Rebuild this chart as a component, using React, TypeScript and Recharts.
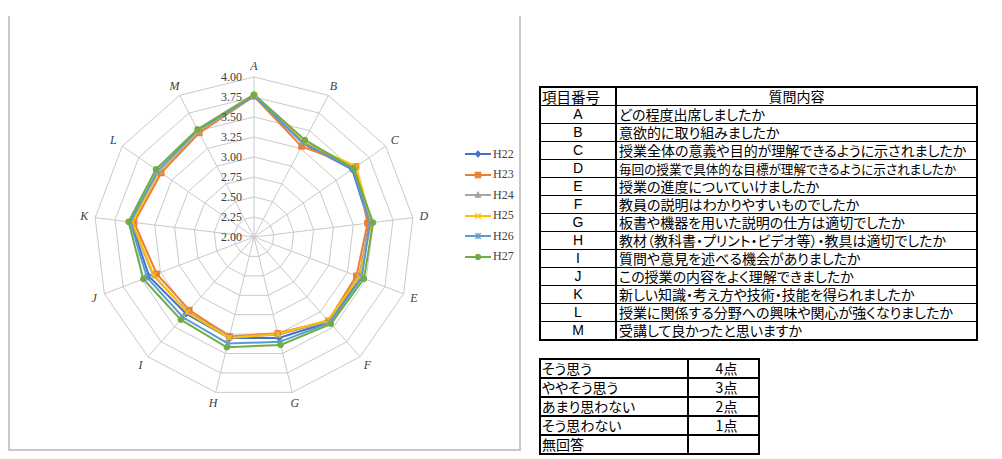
import React from 'react';
import { RadarChart, Radar, PolarGrid, PolarAngleAxis, PolarRadiusAxis, Legend } from 'recharts';

// evaluation items A..M (clockwise from top)
const categories = ['A', 'B', 'C', 'D', 'E', 'F', 'G', 'H', 'I', 'J', 'K', 'L', 'M'];

const h22 = [3.77, 3.32, 3.49, 3.45, 3.42, 3.42, 3.30, 3.30, 3.28, 3.40, 3.55, 3.45, 3.50];
const h23 = [3.76, 3.28, 3.55, 3.43, 3.37, 3.40, 3.24, 3.28, 3.22, 3.30, 3.51, 3.41, 3.47];
const h24 = [3.77, 3.33, 3.52, 3.46, 3.40, 3.41, 3.26, 3.29, 3.25, 3.35, 3.54, 3.44, 3.49];
const h25 = [3.77, 3.34, 3.55, 3.48, 3.41, 3.39, 3.25, 3.30, 3.26, 3.34, 3.53, 3.45, 3.50];
const h26 = [3.76, 3.33, 3.50, 3.46, 3.44, 3.43, 3.35, 3.37, 3.34, 3.43, 3.56, 3.46, 3.51];
const h27 = [3.78, 3.37, 3.51, 3.50, 3.47, 3.45, 3.39, 3.42, 3.38, 3.48, 3.58, 3.49, 3.52];

const seriesNames = ['H22', 'H23', 'H24', 'H25', 'H26', 'H27'];
const seriesValues = [h22, h23, h24, h25, h26, h27];
const seriesColors = ['#4472C4', '#ED7D31', '#A5A5A5', '#FFC000', '#5B9BD5', '#70AD47'];
const seriesMarkers = ['diamond', 'square', 'triangle', 'cross', 'star', 'circle'];

const radiusTicks = [2, 2.25, 2.5, 2.75, 3, 3.25, 3.5, 3.75, 4];

const questionHeader = ['項目番号', '質問内容'];
const questionTexts = [
  'どの程度出席しましたか',
  '意欲的に取り組みましたか',
  '授業全体の意義や目的が理解できるように示されましたか',
  '毎回の授業で具体的な目標が理解できるように示されましたか',
  '授業の進度についていけましたか',
  '教員の説明はわかりやすいものでしたか',
  '板書や機器を用いた説明の仕方は適切でしたか',
  '教材（教科書・プリント・ビデオ等）・教具は適切でしたか',
  '質問や意見を述べる機会がありましたか',
  'この授業の内容をよく理解できましたか',
  '新しい知識・考え方や技術・技能を得られましたか',
  '授業に関係する分野への興味や関心が強くなりましたか',
  '受講して良かったと思いますか',
];

const scoreLabels = ['そう思う', 'ややそう思う', 'あまり思わない', 'そう思わない', '無回答'];
const scorePoints = ['4点', '3点', '2点', '1点', ''];

const chartData = categories.map((c, i) => {
  const row: Record<string, any> = { item: c };
  seriesNames.forEach((s, k) => { row[s] = seriesValues[k][i]; });
  return row;
});

const CX = 246;
const CY = 221;
const R = 160;
const serif = '"Liberation Serif", "DejaVu Serif", serif';
const jp = '"Noto Sans CJK JP", sans-serif';

function Marker({ kind, x, y, color }: { kind: string; x: number; y: number; color: string }) {
  const s = 2.8;
  switch (kind) {
    case 'diamond':
      return <path d={`M${x},${y - s - 0.5}L${x + s},${y}L${x},${y + s + 0.5}L${x - s},${y}Z`} fill={color} stroke={color} />;
    case 'square':
      return <rect x={x - s} y={y - s} width={s * 2} height={s * 2} fill={color} stroke={color} />;
    case 'triangle':
      return <path d={`M${x},${y - s - 0.5}L${x + s},${y + s - 0.5}L${x - s},${y + s - 0.5}Z`} fill={color} stroke={color} />;
    case 'cross':
      return <path d={`M${x - s},${y - s}L${x + s},${y + s}M${x - s},${y + s}L${x + s},${y - s}`} stroke={color} strokeWidth={1.3} />;
    case 'star':
      return <path d={`M${x - s},${y - s}L${x + s},${y + s}M${x - s},${y + s}L${x + s},${y - s}M${x},${y - s - 0.5}L${x},${y + s + 0.5}`} stroke={color} strokeWidth={1.2} />;
    default:
      return <circle cx={x} cy={y} r={s} fill={color} stroke={color} />;
  }
}

const makeDot = (kind: string, color: string) => (props: any) => (
  <g key={`${kind}-${props.index}`}>
    <Marker kind={kind} x={props.cx} y={props.cy} color={color} />
  </g>
);

const AngleTick = (props: any) => {
  const dx = props.x - CX;
  const dy = props.y - CY;
  const len = Math.sqrt(dx * dx + dy * dy) || 1;
  const x = CX + (dx / len) * 171;
  const y = CY + (dy / len) * 171;
  return (
    <text x={x} y={y} textAnchor="middle" dominantBaseline="central" fontFamily={serif} fontStyle="italic" fontSize={12} fill="#404040">
      {props.payload.value}
    </text>
  );
};

const RadiusTick = (props: any) => (
  <text x={props.x - 12} y={props.y} textAnchor="end" dominantBaseline="central" fontFamily={serif} fontSize={12} fill="#404040">
    {Number(props.payload.value).toFixed(2)}
  </text>
);

const renderLegend = () => (
  <div style={{ display: 'flex', flexDirection: 'column' }}>
    {seriesNames.map((s, k) => (
      <div key={s} style={{ height: 20.5, display: 'flex', alignItems: 'center' }}>
        <svg width={26} height={10}>
          <line x1={0} y1={5} x2={26} y2={5} stroke={seriesColors[k]} strokeWidth={2} />
          <Marker kind={seriesMarkers[k]} x={13} y={5} color={seriesColors[k]} />
        </svg>
        <span style={{ fontFamily: serif, fontSize: 12, color: '#404040', marginLeft: 2 }}>{s}</span>
      </div>
    ))}
  </div>
);

const cellBorder = '1px solid #000';

export default function App() {
  return (
    <div style={{ position: 'absolute', left: 0, top: 0, width: 1002, height: 459, background: '#fff' }}>
      <div style={{ position: 'absolute', left: 8, top: 16, width: 513, height: 435, borderLeft: '2px solid #c8c8c8', borderRight: '2px solid #c8c8c8', borderBottom: '2px solid #c8c8c8', boxSizing: 'border-box' }} />
      <div style={{ position: 'absolute', left: 8, top: 16 }}>
        <RadarChart width={513} height={435} data={chartData} cx={CX} cy={CY} outerRadius={R} startAngle={90} endAngle={-270}>
          <PolarGrid stroke="#c9c9c9" strokeWidth={1} />
          <PolarAngleAxis dataKey="item" tick={AngleTick} tickLine={false} axisLine={false} />
          <PolarRadiusAxis angle={90} domain={[2, 4]} ticks={radiusTicks} tick={RadiusTick} tickLine={false} axisLine={false} type="number" />
          {seriesNames.map((s, k) => (
            <Radar
              key={s}
              name={s}
              dataKey={s}
              stroke={seriesColors[k]}
              strokeWidth={2}
              fill="none"
              fillOpacity={0}
              dot={makeDot(seriesMarkers[k], seriesColors[k])}
              isAnimationActive={false}
            />
          ))}
          <Legend content={renderLegend} wrapperStyle={{ position: 'absolute', left: 457, top: 128, width: 60 }} />
        </RadarChart>
      </div>

      <table style={{ position: 'absolute', left: 539, top: 86, width: 439, borderCollapse: 'collapse', border: '2px solid #000', fontFamily: jp, fontSize: 14, color: '#000', fontFeatureSettings: '"palt"' }}>
        <tbody>
          <tr style={{ height: 18 }}>
            <td style={{ width: 72, borderBottom: cellBorder, borderRight: '2px solid #000', padding: '0 1px', lineHeight: '17px', fontSize: 14.5 }}>{questionHeader[0]}</td>
            <td style={{ borderBottom: cellBorder, textAlign: 'center', padding: 0, lineHeight: '17px' }}>{questionHeader[1]}</td>
          </tr>
          {categories.map((c, i) => (
            <tr key={c} style={{ height: 18 }}>
              <td style={{ borderBottom: cellBorder, borderRight: '2px solid #000', textAlign: 'center', fontFamily: '"Liberation Sans", Arial, sans-serif', padding: 0, lineHeight: '17px' }}>{c}</td>
              <td style={{ borderBottom: cellBorder, padding: '0 2px', lineHeight: '17px', fontSize: c === 'D' ? 12.6 : 14, whiteSpace: 'nowrap' }}>{questionTexts[i]}</td>
            </tr>
          ))}
        </tbody>
      </table>

      <table style={{ position: 'absolute', left: 539, top: 358, width: 221, borderCollapse: 'collapse', border: '2px solid #000', fontFamily: jp, fontSize: 14, color: '#000', fontFeatureSettings: '"palt"' }}>
        <tbody>
          {scoreLabels.map((l, i) => (
            <tr key={l} style={{ height: 19 }}>
              <td style={{ width: 144, borderBottom: '2px solid #000', borderRight: '2px solid #000', padding: '0 1px', lineHeight: '17px' }}>{l}</td>
              <td style={{ borderBottom: '2px solid #000', textAlign: 'center', padding: '0 0 0 6px', lineHeight: '17px' }}>{scorePoints[i]}</td>
            </tr>
          ))}
        </tbody>
      </table>
    </div>
  );
}
